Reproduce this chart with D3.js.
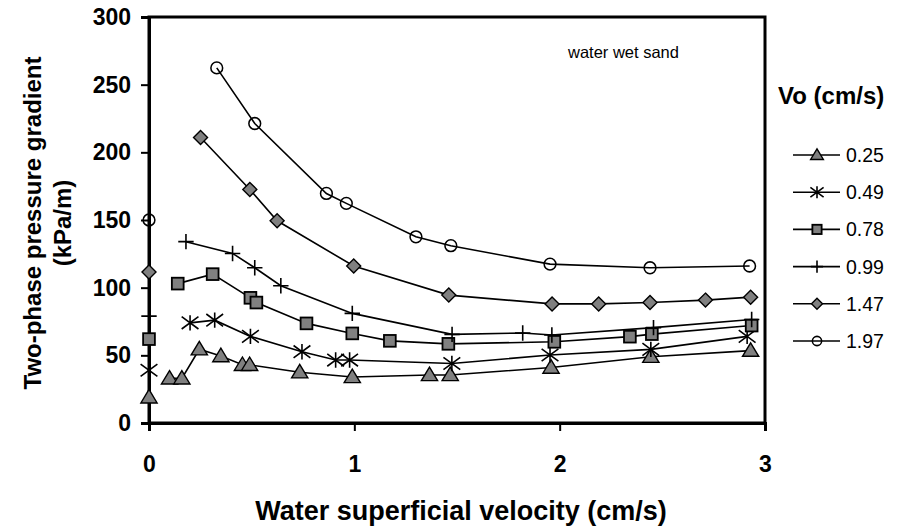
<!DOCTYPE html>
<html><head><meta charset="utf-8">
<script src="https://cdn.jsdelivr.net/npm/d3@7"></script>
<style>body{margin:0;background:#fff}svg{display:block}text{font-family:Arial,"Liberation Sans",sans-serif}</style>
</head><body>
<svg id="c" width="900" height="529"></svg>
<script>
// ---- data ----
const seriesNames = ["0.25","0.49","0.78","0.99","1.47","1.97"];
const symbols = ["triangle","star","square","plus","diamond","circle"];
const xTicks = [0,1,2,3];
const yTicks = [0,50,100,150,200,250,300];

const x025 = [0,0.10,0.16,0.245,0.35,0.455,0.49,0.734,0.99,1.366,1.467,1.958,2.444,2.93];
const y025 = [19,33,33,54.5,49.5,43,43,37.5,34,35.5,35.5,41,49,53.5];
const x049 = [0,0.20,0.32,0.494,0.745,0.909,0.977,1.475,1.953,2.444,2.913];
const y049 = [39,74,76,64,52.7,46.5,46.5,44,50.2,54.4,64];
const x078 = [0,0.14,0.31,0.494,0.523,0.767,0.99,1.173,1.458,1.974,2.342,2.449,2.935];
const y078 = [62,103,110,92.5,89,73.6,66.2,60.7,58.5,60,63.8,65.7,72];
const x099 = [0,0.18,0.407,0.515,0.642,0.99,1.476,1.82,1.962,2.457,2.935];
const y099 = [79,134,125.3,114.7,101.4,81,65.5,66.5,65,70.5,76.5];
const x147 = [0,0.251,0.491,0.624,0.997,1.46,1.963,2.19,2.44,2.71,2.93];
const y147 = [111.5,211,172.6,149.4,116,94.5,88,88,89,90.8,93];
const x197 = [0,0.33,0.515,0.864,0.961,1.30,1.47,1.953,2.44,2.925];
const y197 = [150,262.4,221.3,169.6,162.3,137.6,131,117.4,114.7,116];

const seriesX = [x025,x049,x078,x099,x147,x197];
const seriesY = [y025,y049,y078,y099,y147,y197];
const series = seriesNames.map((n,i)=>({name:n, sym:symbols[i],
  pts: seriesX[i].map((xv,j)=>({x:xv,y:seriesY[i][j]}))}));

// ---- layout ----
const svg = d3.select("#c");
const L=149, R=765, T=17, B=423;
const xs = d3.scaleLinear().domain([0,3]).range([L,R]);
const ys = d3.scaleLinear().domain([0,300]).range([B,T]);
const GRAY="#808080";

// frame
svg.append("rect").attr("x",L).attr("y",T).attr("width",R-L).attr("height",B-T)
  .attr("fill","none").attr("stroke","#000").attr("stroke-width",3);

// axes
const xa = svg.append("g").attr("transform",`translate(0,${B})`)
  .call(d3.axisBottom(xs).tickValues(xTicks).tickFormat(d3.format("d")).tickSize(8).tickPadding(25));
const ya = svg.append("g").attr("transform",`translate(${L},0)`)
  .call(d3.axisLeft(ys).tickValues(yTicks).tickSize(8).tickPadding(10));
[xa,ya].forEach(a=>{
  a.select(".domain").attr("stroke-width",3);
  a.selectAll(".tick line").attr("stroke-width",2);
  a.selectAll(".tick text").attr("font-size",23).attr("font-weight","bold")
   .attr("font-family","Arial, 'Liberation Sans', sans-serif").attr("fill","#000");
});

// axis titles
svg.append("text").attr("x",461).attr("y",520).attr("text-anchor","middle")
  .attr("font-size",27).attr("font-weight","bold").text("Water superficial velocity (cm/s)");
const yt = svg.append("text").attr("transform","translate(41,223) rotate(-90)")
  .attr("text-anchor","middle").attr("font-size",24).attr("font-weight","bold");
yt.append("tspan").attr("x",0).attr("dy",0).text("Two-phase pressure gradient");
yt.append("tspan").attr("x",0).attr("dy",30).text("(kPa/m)");

svg.append("text").attr("x",568).attr("y",58).attr("font-size",16.5).text("water wet sand");

// markers
function drawMarker(g, sym, cx, cy, s){
  const sw = 1.4;
  if(sym==="triangle"){
    const h=s*0.9, w=s*0.58;
    g.append("path").attr("d",`M${cx},${cy-h*0.62}L${cx+w},${cy+h*0.45}L${cx-w},${cy+h*0.45}Z`)
     .attr("fill",GRAY).attr("stroke","#000").attr("stroke-width",sw);
  } else if(sym==="square"){
    const a=s*0.42;
    g.append("rect").attr("x",cx-a).attr("y",cy-a).attr("width",2*a).attr("height",2*a)
     .attr("fill",GRAY).attr("stroke","#000").attr("stroke-width",sw*1.3);
  } else if(sym==="diamond"){
    const a=s*0.5;
    g.append("path").attr("d",`M${cx},${cy-a}L${cx+a},${cy}L${cx},${cy+a}L${cx-a},${cy}Z`)
     .attr("fill",GRAY).attr("stroke","#000").attr("stroke-width",sw);
  } else if(sym==="circle"){
    g.append("circle").attr("cx",cx).attr("cy",cy).attr("r",s*0.42)
     .attr("fill","none").attr("stroke","#000").attr("stroke-width",sw*1.1);
  } else if(sym==="plus"){
    const a=s*0.55;
    g.append("path").attr("d",`M${cx-a},${cy}H${cx+a}M${cx},${cy-a}V${cy+a}`)
     .attr("fill","none").attr("stroke","#000").attr("stroke-width",1.6);
  } else if(sym==="star"){
    const a=s*0.6, b=s*0.55;
    g.append("path").attr("d",`M${cx-a},${cy-b*0.8}L${cx+a},${cy+b*0.8}M${cx-a},${cy+b*0.8}L${cx+a},${cy-b*0.8}M${cx},${cy-b}V${cy+b}`)
     .attr("fill","none").attr("stroke","#000").attr("stroke-width",1.6);
  }
}

const line = d3.line().x(d=>xs(d.x)).y(d=>ys(d.y));
const plot = svg.append("g");
series.forEach(s=>{
  plot.append("path").datum(s.pts.filter(p=>p.x>0)).attr("d",line)
    .attr("fill","none").attr("stroke","#000").attr("stroke-width",1.6);
});
series.forEach(s=>{
  s.pts.forEach(p=>drawMarker(plot, s.sym, xs(p.x), ys(p.y), 14));
});

// legend
svg.append("text").attr("x",778).attr("y",104).attr("font-size",24).attr("font-weight","bold").text("Vo (cm/s)");
const lg = svg.append("g");
series.forEach((s,i)=>{
  const cy = 155 + i*37.2;
  lg.append("line").attr("x1",793).attr("x2",840).attr("y1",cy).attr("y2",cy)
    .attr("stroke","#000").attr("stroke-width",1.6);
  drawMarker(lg, s.sym, 817, cy, 11);
  lg.append("text").attr("x",846).attr("y",cy+7).attr("font-size",19.5).text(s.name);
});
</script>
</body></html>
